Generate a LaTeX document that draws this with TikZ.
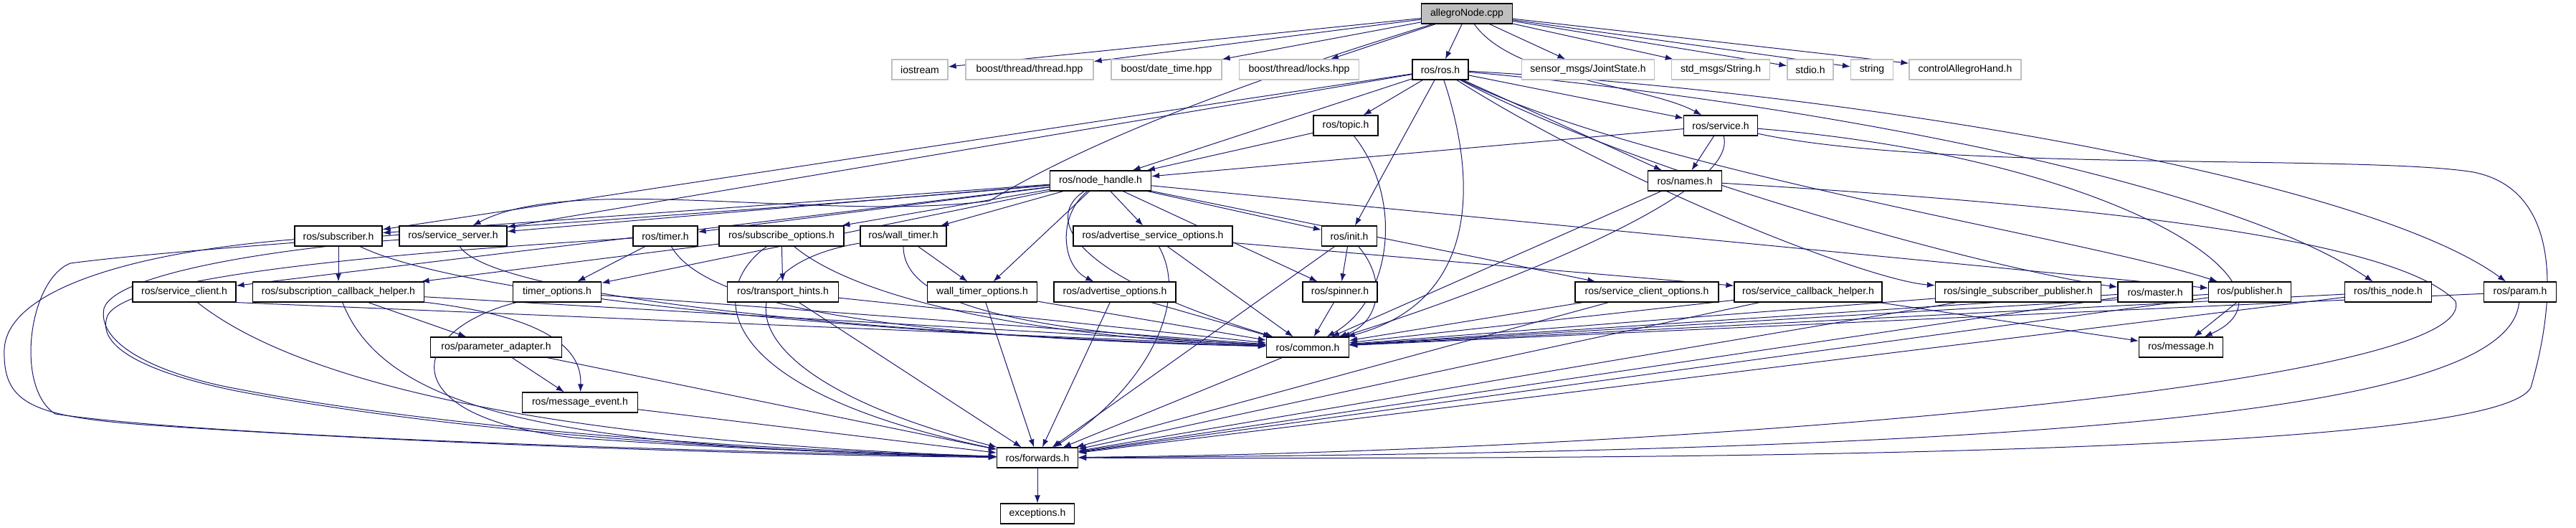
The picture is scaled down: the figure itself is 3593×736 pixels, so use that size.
\documentclass[tikz,border=0pt]{standalone}
\usepackage{fontspec}
\setmainfont{Liberation Sans}
\usetikzlibrary{arrows.meta}
\definecolor{edgeblue}{HTML}{191970}
\definecolor{extgray}{HTML}{BFBFBF}
\pgfdeclarelayer{back}
\pgfsetlayers{back,main}

\begin{document}
\begin{tikzpicture}[x=1pt,y=-1pt,
  file/.style={draw=black,line width=1.2pt,fill=white,inner sep=0pt,
    minimum height=28pt,font=\fontsize{14}{16}\selectfont},
  extfile/.style={file,draw=extgray},
  dep/.style={edgeblue,line width=1pt,-{Latex[length=11pt,width=8pt]}}]
 \useasboundingbox (0,0) rectangle (3593,736);

 % top: the source file and what it includes
 \node[file,fill=extgray,minimum width=127] (cpp) at (2046,19) {allegroNode.cpp};
 \node[extfile,minimum width=78]  (iostream)   at (1283,97) {iostream};
 \node[extfile,minimum width=178] (thread)     at (1436,97) {boost/thread/thread.hpp};
 \node[extfile,minimum width=154] (datetime)   at (1627,97) {boost/date\_time.hpp};
 \node[extfile,minimum width=167] (locks)      at (1812,97) {boost/thread/locks.hpp};
 \node[file,minimum width=78]     (rosh)       at (2009,97) {ros/ros.h};
 \node[extfile,minimum width=185] (jointstate) at (2215,97) {sensor\_msgs/JointState.h};
 \node[extfile,minimum width=137] (stringmsg)  at (2400,97) {std\_msgs/String.h};
 \node[extfile,minimum width=64]  (stdio)      at (2525,97) {stdio.h};
 \node[extfile,minimum width=59]  (string)     at (2611,97) {string};
 \node[extfile,minimum width=156] (hand)       at (2741,97) {controlAllegroHand.h};

 \node[file,minimum width=90]  (topic)      at (1877,175) {ros/topic.h};
 \node[file,minimum width=103] (service)    at (2400,175) {ros/service.h};
 \node[file,minimum width=141] (nodehandle) at (1535,252) {ros/node\_handle.h};
 \node[file,minimum width=103] (names)      at (2350,252) {ros/names.h};

 % row of node_handle includes
 \node[file,minimum width=122] (subscriber) at (472,329)  {ros/subscriber.h};
 \node[file,minimum width=150] (srvserver)  at (632,329)  {ros/service\_server.h};
 \node[file,minimum width=90]  (timer)      at (928,329)  {ros/timer.h};
 \node[file,minimum width=174] (subopts)    at (1090,329) {ros/subscribe\_options.h};
 \node[file,minimum width=120] (walltimer)  at (1260,329) {ros/wall\_timer.h};
 \node[file,minimum width=222] (advsrvopts) at (1608,329) {ros/advertise\_service\_options.h};
 \node[file,minimum width=77]  (init)       at (1882,329) {ros/init.h};

 \node[file,minimum width=144] (srvclient)      at (257,407)  {ros/service\_client.h};
 \node[file,minimum width=239] (subcbhelper)    at (472,407)  {ros/subscription\_callback\_helper.h};
 \node[file,minimum width=123] (timeropts)      at (777,407)  {timer\_options.h};
 \node[file,minimum width=155] (transporthints) at (1092,407) {ros/transport\_hints.h};
 \node[file,minimum width=153] (walltimeropts)  at (1370,407) {wall\_timer\_options.h};
 \node[file,minimum width=170] (advopts)        at (1555,407) {ros/advertise\_options.h};
 \node[file,minimum width=104] (spinner)        at (1869,407) {ros/spinner.h};
 \node[file,minimum width=200] (srvclientopts)  at (2297,407) {ros/service\_client\_options.h};
 \node[file,minimum width=206] (srvcbhelper)    at (2522,407) {ros/service\_callback\_helper.h};
 \node[file,minimum width=231] (ssp)            at (2815,407) {ros/single\_subscriber\_publisher.h};
 \node[file,minimum width=104] (master)         at (3006,407) {ros/master.h};
 \node[file,minimum width=115] (publisher)      at (3138,407) {ros/publisher.h};
 \node[file,minimum width=121] (thisnode)       at (3331,407) {ros/this\_node.h};
 \node[file,minimum width=101] (param)          at (3515,407) {ros/param.h};

 \node[file,minimum width=183] (paramadapter) at (692,484)  {ros/parameter\_adapter.h};
 \node[file,minimum width=115] (common)       at (1824,484) {ros/common.h};
 \node[file,minimum width=117] (message)      at (3042,484) {ros/message.h};
 \node[file,minimum width=161] (msgevent)     at (809,561)  {ros/message\_event.h};
 \node[file,minimum width=113] (forwards)     at (1447,638) {ros/forwards.h};
 \node[file,minimum width=103] (exceptions)   at (1447,716) {exceptions.h};

 \begin{pgfonlayer}{back}
 \foreach \a/\b in {cpp/iostream, cpp/thread, cpp/datetime, cpp/locks, cpp/rosh,
   cpp/jointstate, cpp/stringmsg, cpp/stdio, cpp/string, cpp/hand,
   rosh/topic, rosh/nodehandle, rosh/subscriber, rosh/srvserver, rosh/service,
   rosh/names, rosh/init, topic/nodehandle, service/nodehandle, service/names,
   names/common, nodehandle/subscriber, nodehandle/srvserver, nodehandle/srvclient,
   nodehandle/timer, nodehandle/subopts, nodehandle/walltimer, nodehandle/advsrvopts,
   nodehandle/init, nodehandle/timeropts, nodehandle/walltimeropts, nodehandle/spinner,
   nodehandle/srvclientopts, nodehandle/publisher, subscriber/subcbhelper,
   timer/timeropts, subopts/subcbhelper, subopts/transporthints,
   walltimer/walltimeropts, advsrvopts/srvcbhelper, advsrvopts/common, init/spinner,
   init/forwards, subcbhelper/paramadapter, subcbhelper/common, paramadapter/msgevent,
   paramadapter/forwards, msgevent/forwards, timeropts/common, transporthints/common,
   transporthints/forwards, walltimeropts/common, walltimeropts/forwards,
   advopts/common, advopts/forwards, spinner/common, srvclientopts/common,
   srvclientopts/forwards, srvcbhelper/common, srvcbhelper/forwards,
   srvcbhelper/message, ssp/common, ssp/forwards, master/common, master/forwards,
   publisher/common, publisher/forwards, publisher/message, thisnode/common,
   thisnode/forwards, param/common, common/forwards, forwards/exceptions}
   \draw[dep] (\a) -- (\b);

 % bent ones
 \draw[dep] (cpp) .. controls (2110,110) and (2300,120) .. (service);
 \draw[dep] (cpp) .. controls (1650,140) and (1480,220) .. (1380,280) .. controls (1150,310) and (800,240) .. (srvserver);
 \draw[dep] (rosh) .. controls (2060,250) and (2065,420) .. (common);
 \draw[dep] (rosh) .. controls (2250,250) and (2600,390) .. (ssp);
 \draw[dep] (rosh) .. controls (2300,250) and (2800,380) .. (master);
 \draw[dep] (rosh) .. controls (2300,240) and (2900,330) .. (publisher);
 \draw[dep] (rosh) .. controls (2500,140) and (3100,250) .. (thisnode);
 \draw[dep] (rosh) .. controls (2600,130) and (3300,250) .. (param);
 \draw[dep] (topic) .. controls (1960,280) and (1940,420) .. (common);
 \draw[dep] (service) .. controls (2430,280) and (2000,430) .. (common);
 \draw[dep] (service) .. controls (2950,220) and (3230,400) .. (message);
 \draw[dep] (service) .. controls (2700,240) and (3300,215) .. (3450,240) .. controls (3575,265) and (3565,420) .. (3530,540) .. controls (3480,640) and (2200,640) .. (forwards);
 \draw[dep] (names) .. controls (2800,280) and (3330,320) .. (3425,420) .. controls (3460,540) and (2300,630) .. (forwards);
 \draw[dep] (nodehandle) .. controls (1460,300) and (1480,380) .. (common);
 \draw[dep] (nodehandle) .. controls (1475,300) and (1480,370) .. (advopts);
 \draw[dep] (nodehandle) .. controls (1000,300) and (300,340) .. (98,367) .. controls (40,390) and (20,540) .. (77,577) .. controls (300,610) and (1000,630) .. (forwards);
 \draw[dep] (subscriber) .. controls (200,350) and (10,400) .. (6,487) .. controls (4,560) and (40,580) .. (200,592) .. controls (600,620) and (1100,635) .. (forwards);
 \draw[dep] (srvserver) .. controls (400,345) and (160,380) .. (145,430) .. controls (135,480) and (220,520) .. (320,540) .. controls (600,595) and (1000,625) .. (forwards);
 \draw[dep] (timer) .. controls (600,350) and (180,380) .. (150,440) .. controls (130,490) and (230,525) .. (330,545) .. controls (620,600) and (1000,628) .. (forwards);
 \draw[dep] (srvclient) .. controls (450,560) and (900,620) .. (forwards);
 \draw[dep] (subcbhelper) .. controls (540,580) and (800,625) .. (forwards);
 \draw[dep] (timeropts) .. controls (570,460) and (540,580) .. (800,610) .. controls (1000,625) and (1200,632) .. (forwards);
 \draw[dep] (subscriber) .. controls (660,420) and (1300,470) .. (common);
 \draw[dep] (srvserver) .. controls (690,420) and (1300,470) .. (common);
 \draw[dep] (srvclient.south east) -- (common);
 \draw[dep] (subcbhelper) .. controls (750,440) and (812,480) .. (msgevent);
 \draw[dep] (timer) .. controls (980,420) and (1200,470) .. (common);
 \draw[dep] (subopts) .. controls (990,400) and (980,540) .. (forwards);
 \draw[dep] (subopts) .. controls (1200,420) and (1450,470) .. (common);
 \draw[dep] (walltimer) .. controls (1260,420) and (1400,460) .. (common);
 \draw[dep] (walltimer) .. controls (1010,370) and (990,520) .. (forwards);
 \draw[dep] (advsrvopts) .. controls (1660,420) and (1600,540) .. (forwards);
 \draw[dep] (init) .. controls (1935,390) and (1925,450) .. (common);
 \draw[dep] (param) .. controls (3500,560) and (3000,630) .. (forwards);
 \end{pgfonlayer}
\end{tikzpicture}
\end{document}
